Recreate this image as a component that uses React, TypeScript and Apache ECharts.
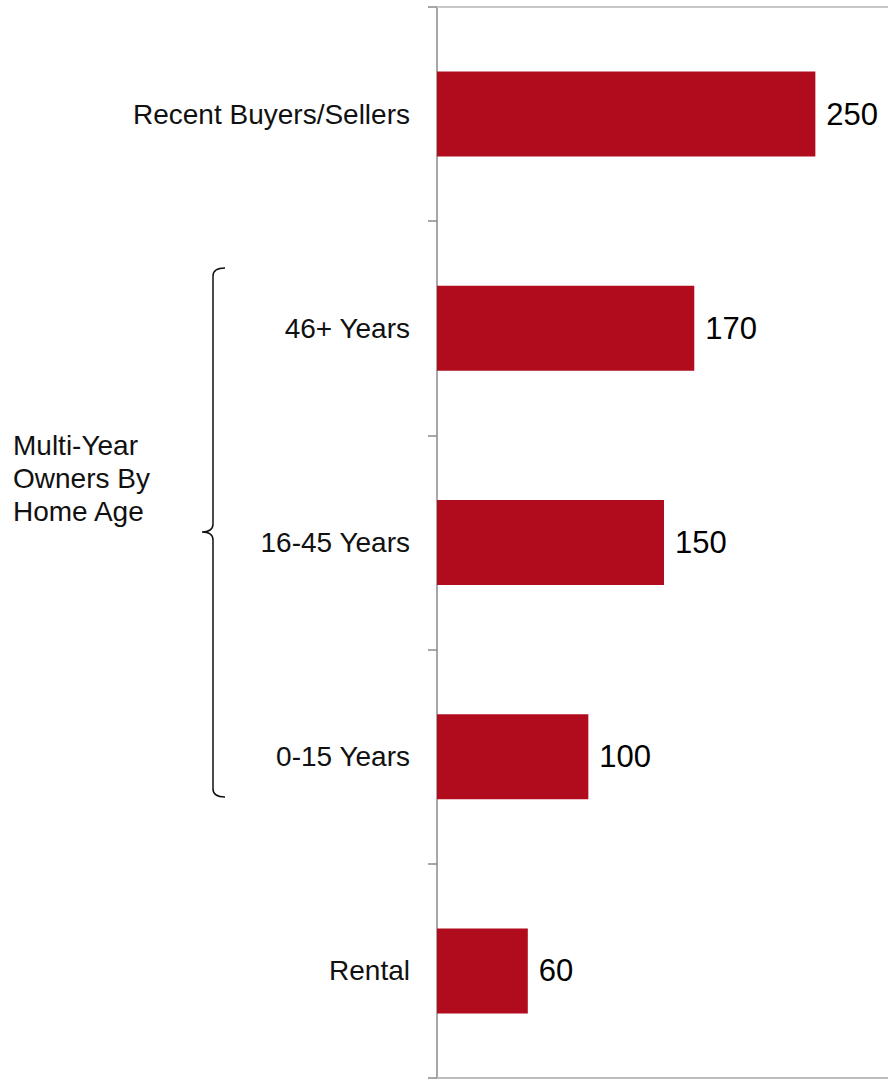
import React, { useEffect, useRef } from "react";
import * as echarts from "echarts";

const categories = ["Recent Buyers/Sellers", "46+ Years", "16-45 Years", "0-15 Years", "Rental"];
const values = [250, 170, 150, 100, 60];
const groupLabel = "Multi-Year\nOwners By\nHome Age";

const FONT = "'Liberation Sans', Arial, sans-serif";
const BAR_COLOR = "#B00C1E";

const bracePath = "M12 0 Q0 0 0 8 L0 256 Q0 264 -11 264 Q0 264 0 272 L0 521 Q0 529 12 529";

export default function App() {
  const ref = useRef<HTMLDivElement>(null);
  useEffect(() => {
    if (!ref.current) return;
    try {
      echarts.graphic.registerShape("brace", echarts.graphic.extendPath(bracePath, {}));
    } catch (e) {}
    const chart = echarts.init(ref.current, null, { renderer: "svg" });
    chart.setOption({
      animation: false,
      grid: { left: 437, top: 7, right: 0, bottom: 3, containLabel: false },
      xAxis: [
        {
          type: "value",
          min: 0,
          max: 298,
          position: "bottom",
          axisLine: { show: true, lineStyle: { color: "#bdbdbd", width: 2 } },
          axisTick: { show: false },
          axisLabel: { show: false },
          splitLine: { show: false },
        },
        {
          type: "value",
          min: 0,
          max: 298,
          position: "top",
          axisLine: { show: true, lineStyle: { color: "#c8c8c8", width: 2 } },
          axisTick: { show: false },
          axisLabel: { show: false },
          splitLine: { show: false },
        },
      ],
      yAxis: {
        type: "category",
        data: categories,
        inverse: true,
        axisLine: { show: true, lineStyle: { color: "#8a8a8a", width: 1.5 } },
        axisTick: { show: true, length: 9, inside: false, lineStyle: { color: "#8a8a8a", width: 1.5 } },
        axisLabel: { margin: 27, fontSize: 28, color: "#111", fontFamily: FONT },
      },
      series: [
        {
          type: "bar",
          data: values,
          xAxisIndex: 0,
          barWidth: 85,
          itemStyle: { color: BAR_COLOR },
          label: {
            show: true,
            position: "right",
            distance: 11,
            fontSize: 31,
            color: "#000",
            fontFamily: FONT,
          },
        },
      ],
      graphic: [
        {
          type: "brace",
          x: 213,
          y: 268,
          shape: {},
          style: { fill: "none", stroke: "#111", lineWidth: 1.5 },
        },
        {
          type: "text",
          left: 13,
          top: 429,
          style: {
            text: groupLabel,
            fontSize: 28,
            lineHeight: 33,
            fill: "#111",
            fontFamily: FONT,
          },
        },
      ],
    });
    return () => chart.dispose();
  }, []);
  return (
    <div
      ref={ref}
      style={{ position: "absolute", left: 0, top: 0, width: 888, height: 1081 }}
    />
  );
}
